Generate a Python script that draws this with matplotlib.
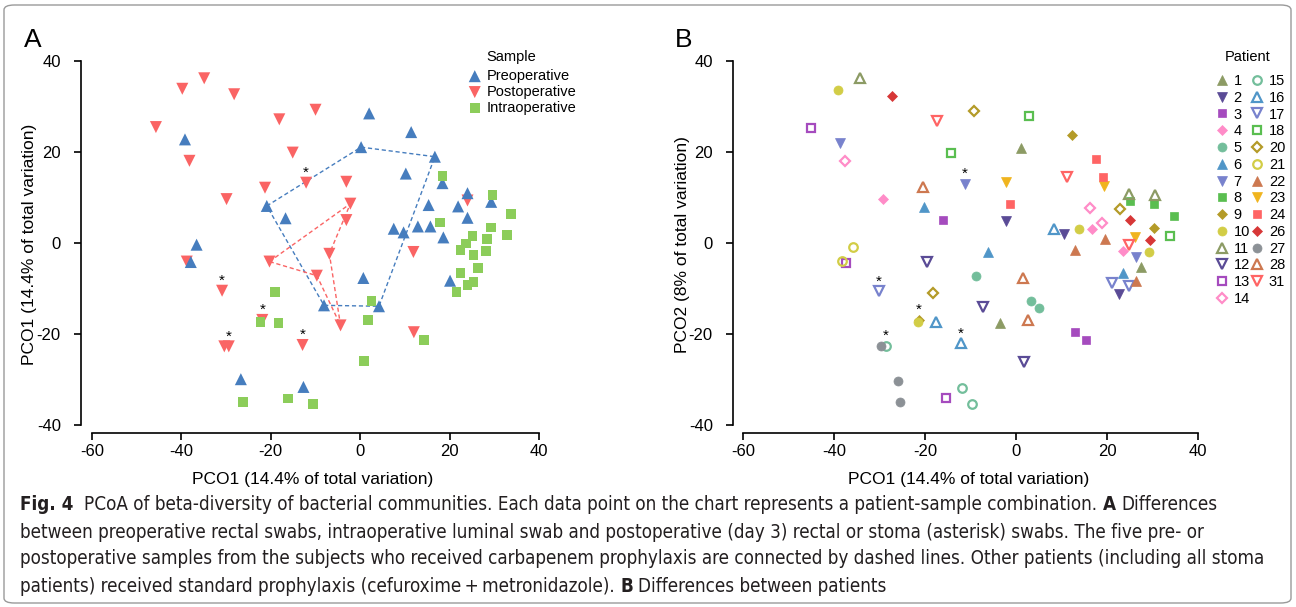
import matplotlib
matplotlib.use("Agg")
import matplotlib.pyplot as plt
from matplotlib.patches import FancyBboxPatch

plt.rcParams['font.family'] = ['Liberation Sans', 'DejaVu Sans']
plt.rcParams['axes.unicode_minus'] = False

# ---- Panel A: samples by type (PCO1, PCO2) ----
pre_x = [-39.2, -37.9, -36.6, -20.9, -16.7, -26.7, -12.7, 2.0, 11.4, 0.2, 16.7, 10.2, 18.4, 15.3,
         21.9, 24.0, 29.3, 24.0, 7.5, 9.7, 12.9, 15.7, 18.6, 20.1, 0.7, -8.1, 4.2]
pre_y = [22.7, -4.2, -0.4, 8.1, 5.4, -29.9, -31.6, 28.4, 24.3, 21.0, 18.9, 15.2, 13.1, 8.3,
         8.0, 10.9, 9.0, 5.5, 3.1, 2.3, 3.6, 3.6, 1.2, -8.3, -7.7, -13.7, -13.9]

post_x = [-34.9, -39.8, -28.2, -45.7, -10.0, -18.1, -15.1, -38.2, -12.1, -21.3, -29.9, -3.1, -2.2, -3.1,
          24.0, -38.8, -20.3, -6.9, -9.7, -30.9, -21.9, -30.4, -29.4, -12.9, -4.4, 12.0, 11.9]
post_y = [36.1, 33.8, 32.6, 25.4, 29.2, 27.1, 19.8, 18.0, 13.2, 12.1, 9.6, 13.4, 8.6, 5.0,
          9.3, -4.1, -4.1, -2.4, -7.2, -10.5, -16.9, -22.7, -22.7, -22.4, -18.1, -19.6, -2.0]

intra_x = [18.4, 29.6, 33.7, 17.9, 29.3, 25.1, 32.9, 23.7, 28.4, 22.4, 28.2, 25.3, 26.4, 22.4,
           25.3, 24.0, 21.5, 2.5, 1.8, 14.3, 0.9, -10.5, -16.1, -26.2, -19.0, -22.3, -18.3]
intra_y = [14.7, 10.5, 6.4, 4.5, 3.4, 1.5, 1.7, -0.1, 0.8, -1.5, -1.8, -2.7, -5.5, -6.6,
           -8.6, -9.3, -10.8, -12.7, -16.9, -21.3, -25.9, -35.4, -34.1, -34.9, -10.8, -17.4, -17.6]

# stoma samples (asterisk)
stoma_a_x = [-12.1, -30.9, -21.9, -29.4, -12.9]
stoma_a_y = [13.2, -10.5, -16.9, -22.7, -22.4]

# carbapenem patients, connected by dashed lines
carb_pre_x = [-20.9, 0.2, 16.7, 4.2, -8.1, -20.9]
carb_pre_y = [8.1, 21.0, 18.9, -13.9, -13.7, 8.1]
carb_post_x = [-20.3, -2.2, -6.9, -4.4, -9.7, -20.3]
carb_post_y = [-4.1, 8.6, -2.4, -18.1, -7.2, -4.1]

# ---- Panel B: samples by patient ----
patient_ids = [1, 2, 3, 4, 5, 6, 7, 8, 9, 10, 11, 12, 13, 14,
               15, 16, 17, 18, 20, 21, 22, 23, 24, 26, 27, 28, 31]
patient_x = [
    [1.2, 27.4, -3.5], [-2.3, 10.6, 22.6], [-16.0, 13.0, 15.4], [-29.3, 16.7, 23.4],
    [-8.9, 3.3, 5.1], [-20.2, -6.1, 23.4], [-38.6, -11.3, 26.4], [25.1, 30.4, 34.8],
    [12.3, 30.3, -21.3], [-39.2, 13.9, 29.2, -21.5], [-34.2, 24.9, 30.5], [-19.5, -7.3, 1.7],
    [-45.1, -37.3, -15.3], [-37.6, 16.3, 18.8],
    [-28.6, -11.9, -9.7], [8.4, -17.5, -12.1], [-30.2, 21.1, 24.9], [-14.3, 2.9, 33.8],
    [-9.2, 22.9, -18.2], [-35.9, -38.2], [19.6, 12.9, 26.4], [-2.2, 19.4, 26.2],
    [17.6, 19.2, -1.3], [-27.3, 25.1, 29.5], [-29.7, -26.0, -25.4], [-20.5, 1.6, 2.7],
    [-17.3, 11.2, 24.8]]
patient_y = [
    [20.7, -5.3, -17.7], [4.8, 1.8, -11.2], [5.0, -19.6, -21.4], [9.5, 3.0, -1.8],
    [-7.3, -12.9, -14.4], [7.8, -2.1, -6.7], [21.9, 12.9, -3.1], [9.2, 8.5, 5.9],
    [23.7, 3.2, -16.9], [33.6, 3.0, -2.0, -17.4], [36.1, 10.7, 10.5], [-4.3, -14.2, -26.3],
    [25.2, -4.5, -34.1], [17.9, 7.7, 4.3],
    [-22.6, -31.9, -35.4], [2.9, -17.5, -22.1], [-10.7, -8.9, -9.6], [19.7, 27.9, 1.5],
    [28.9, 7.4, -11.1], [-0.9, -4.1], [0.9, -1.6, -8.5], [13.3, 12.5, 1.2],
    [18.4, 14.4, 8.5], [32.3, 5.0, 0.5], [-22.6, -30.3, -35.0], [12.2, -7.8, -16.9],
    [26.7, 14.5, -0.5]]
stoma_b_x = [-11.3, -30.2, -21.3, -28.6, -12.1]
stoma_b_y = [12.9, -10.7, -16.9, -22.6, -22.1]

# styles per patient
pat_marker = ['^', 'v', 's', 'D', 'o', '^', 'v', 's', 'D', 'o', '^', 'v', 's', 'D',
              'o', '^', 'v', 's', 'D', 'o', '^', 'v', 's', 'D', 'o', '^', 'v']
pat_color = ['#8C9B64', '#5A4B96', '#A54BBE', '#FF8CC8', '#73BE9B', '#5096C8', '#7882CD',
             '#5ABE50', '#B49B28', '#D2CD46', '#8C9B64', '#5A4B96', '#A54BBE', '#FF8CC8',
             '#73BE9B', '#5096C8', '#7882CD', '#5ABE50', '#B49B28', '#D2CD46', '#CD7850',
             '#F0B41E', '#FF6464', '#D73737', '#8C9196', '#CD7850', '#FF6464']
pat_filled = [True] * 10 + [False] * 10 + [True] * 5 + [False] * 2
marker_size = {'^': 7.5, 'v': 7.5, 's': 6.0, 'D': 5.2, 'o': 6.5}

blue = '#467DBE'
red = '#FA6464'
green = '#8CCD5A'

fig = plt.figure(figsize=(12.96, 6.07), dpi=100)
W, H = 1296.0, 607.0

# ---------------- panel A ----------------
axA = fig.add_axes([81 / W, 0.2867, 0.3579, 0.6211])
axA.plot(carb_pre_x, carb_pre_y, color=blue, ls=(0, (3, 2)), lw=1.0, zorder=1)
axA.plot(carb_post_x, carb_post_y, color=red, ls=(0, (3, 2)), lw=1.0, zorder=1)
h_post = axA.scatter(post_x, post_y, marker='v', s=75, color=red, edgecolors='none', zorder=2, label='Postoperative')
h_pre = axA.scatter(pre_x, pre_y, marker='^', s=75, color=blue, edgecolors='none', zorder=3, label='Preoperative')
h_intra = axA.scatter(intra_x, intra_y, marker='s', s=48, color=green, edgecolors='none', zorder=4, label='Intraoperative')
for x, y in zip(stoma_a_x, stoma_a_y):
    axA.annotate('*', (x, y), xytext=(0, 7), textcoords='offset points', ha='center', va='center',
                 fontsize=11, color='black', zorder=5)
axA.legend(handles=[h_pre, h_post, h_intra], loc='upper left',
           bbox_to_anchor=(466 / W, 1 - 69 / H), bbox_transform=fig.transFigure,
           frameon=False, fontsize=10.5, borderpad=0, borderaxespad=0,
           handletextpad=0.2, labelspacing=0.13, handlelength=1.2, markerscale=1.0)
fig.text(511 / W, 1 - 57 / H, 'Sample', fontsize=10.5, ha='center', va='center')

# ---------------- panel B ----------------
axB = fig.add_axes([733 / W, 0.2867, 0.3634, 0.6211])
handles = []
for i, pid in enumerate(patient_ids):
    m = pat_marker[i]
    c = pat_color[i]
    ms = marker_size[m]
    if pat_filled[i]:
        h, = axB.plot(patient_x[i], patient_y[i], ls='none', marker=m, ms=ms, color=c,
                      markeredgecolor=c, markeredgewidth=0.5, label=str(pid), zorder=3)
    else:
        h, = axB.plot(patient_x[i], patient_y[i], ls='none', marker=m, ms=ms * 0.95, color=c,
                      markerfacecolor='none', markeredgecolor=c, markeredgewidth=1.6,
                      label=str(pid), zorder=3)
    handles.append(h)
for x, y in zip(stoma_b_x, stoma_b_y):
    axB.annotate('*', (x, y), xytext=(0, 7), textcoords='offset points', ha='center', va='center',
                 fontsize=11, color='black', zorder=5)
axB.legend(handles=handles, ncol=2, loc='upper left',
           bbox_to_anchor=(1216 / W, 1 - 74 / H), bbox_transform=fig.transFigure,
           frameon=False, fontsize=10.5, borderpad=0, borderaxespad=0,
           handletextpad=0.4, labelspacing=0.19, columnspacing=0.1, handlelength=0.8)
fig.text(1248 / W, 1 - 57 / H, 'Patient', fontsize=10.5, ha='center', va='center')

for ax, xl, yl, ylab, ylx in [(axA, (-62.46, 41.3), (-41.7, 41.0), 'PCO1 (14.4% of total variation)', -0.112),
                              (axB, (-62.2, 41.3), (-41.8, 41.0), 'PCO2 (8% of total variation)', -0.108)]:
    ax.set_xlim(*xl)
    ax.set_ylim(*yl)
    ax.set_xticks([-60, -40, -20, 0, 20, 40])
    ax.set_yticks([-40, -20, 0, 20, 40])
    for side in ['top', 'right']:
        ax.spines[side].set_visible(False)
    ax.spines['left'].set_bounds(-40, 40)
    ax.spines['bottom'].set_bounds(-60, 40)
    ax.spines['left'].set_linewidth(1.2)
    ax.spines['bottom'].set_linewidth(1.2)
    ax.tick_params(direction='out', length=5, width=1.2, labelsize=12)
    ax.tick_params(axis='x', pad=3)
    ax.tick_params(axis='y', pad=9.5)
    ax.set_xlabel('PCO1 (14.4% of total variation)', fontsize=12.5, labelpad=9)
    ax.set_ylabel(ylab, fontsize=12.5, va='center')
    ax.yaxis.set_label_coords(ylx, 0.5)

fig.text(33 / W, 1 - 40 / H, 'A', fontsize=19, ha='center', va='center')
fig.text(684 / W, 1 - 40 / H, 'B', fontsize=19, ha='center', va='center')

# figure frame
frame = FancyBboxPatch((4 / W, 4 / H), 1287 / W, 598 / H,
                       boxstyle='round,pad=0,rounding_size=0.008', transform=fig.transFigure,
                       fill=False, edgecolor='#9a9a9a', lw=1.0)
fig.patches.append(frame)

# ---------------- caption ----------------
cap_font = ['Liberation Sans Narrow', 'DejaVu Sans']
caption = [
    [('Fig. 4', True), ('PCoA of beta-diversity of bacterial communities. Each data point on the chart '
                        'represents a patient-sample combination.', False), ('A', True), ('Differences', False)],
    [('between preoperative rectal swabs, intraoperative luminal swab and postoperative (day 3) rectal '
      'or stoma (asterisk) swabs. The five pre- or', False)],
    [('postoperative samples from the subjects who received carbapenem prophylaxis are connected by '
      'dashed lines. Other patients (including all stoma', False)],
    [('patients) received standard prophylaxis (cefuroxime\u2009+\u2009metronidazole).', False), ('B', True),
     ('Differences between patients', False)],
]
caption_y = [505, 532, 559, 586]

renderer = fig.canvas.get_renderer()


def text_width(s, size, bold):
    t = fig.text(0, 0, s, fontsize=size, family=cap_font, fontstretch='condensed',
                 fontweight='bold' if bold else 'normal')
    w = t.get_window_extent(renderer).width
    t.remove()
    return w


def line_width(parts, size):
    gap = text_width('x x', size, False) - text_width('xx', size, False)
    total = sum(text_width(s, size, b) for s, b in parts) + gap * (len(parts) - 1)
    return total + gap if parts[0][1] else total


# scale caption font so the first line spans the same width as in the reference
cap_size = 10 * 1200 / line_width(caption[0], 10)
gap = text_width('x x', cap_size, False) - text_width('xx', cap_size, False)
for parts, y in zip(caption, caption_y):
    x = 20
    for j, (s, bold) in enumerate(parts):
        t = fig.text(x / W, 1 - y / H, s, fontsize=cap_size, family=cap_font, fontstretch='condensed',
                     fontweight='bold' if bold else 'normal', ha='left', va='center', color='#231f20')
        x += t.get_window_extent(renderer).width + gap * (2 if (j == 0 and bold and s.startswith('Fig')) else 1)

fig.savefig('out.png', dpi=100)
